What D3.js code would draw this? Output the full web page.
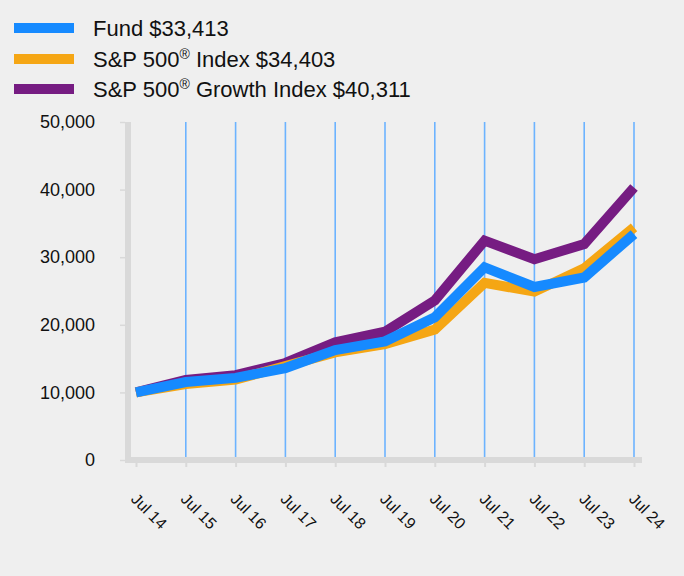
<!DOCTYPE html>
<html>
<head>
<meta charset="utf-8">
<script src="https://cdn.jsdelivr.net/npm/d3@7"></script>
<style>
  html, body { margin: 0; padding: 0; background: #efefef; }
  svg { display: block; font-family: Arial, "Liberation Sans", sans-serif; }
</style>
</head>
<body>
<svg id="chart" width="684" height="576"></svg>
<script>
const categories = ["Jul 14","Jul 15","Jul 16","Jul 17","Jul 18","Jul 19","Jul 20","Jul 21","Jul 22","Jul 23","Jul 24"];
const fundValues   = [10000, 11540, 12150, 13600, 16250, 17550, 21100, 28500, 25600, 27000, 33413];
const sp500Values  = [10000, 11240, 11900, 13900, 15930, 17160, 19300, 26200, 24900, 28350, 34403];
const growthValues = [10000, 11830, 12550, 14350, 17400, 18980, 23600, 32450, 29700, 31950, 40311];
const yTicks = [0, 10000, 20000, 30000, 40000, 50000];
const seriesNames = ["Fund", "S&P 500", "S&P 500"];
const seriesSuffix = [" $33,413", " Index $34,403", " Growth Index $40,311"];
const seriesColors = ["#168aff", "#f5a614", "#761c82"];

const svg = d3.select("#chart");
const x = d3.scalePoint().domain(categories).range([136, 634]);
const y = d3.scaleLinear().domain([0, 50000]).range([460, 122]);
const axisGray = "#d9d9d9";

// vertical grid lines (skip first)
svg.append("g").selectAll("line")
  .data(categories.slice(1))
  .join("line")
  .attr("x1", d => x(d)).attr("x2", d => x(d))
  .attr("y1", y(50000)).attr("y2", y(0) - 3)
  .attr("stroke", "#6cb3ff").attr("stroke-width", 1.6);

// y axis
const yAxis = d3.axisLeft(y).tickValues(yTicks).tickFormat(d3.format(",")).tickSize(5).tickPadding(25);
const gy = svg.append("g").attr("transform", "translate(125,0)").call(yAxis);
gy.select(".domain").remove();
gy.selectAll(".tick line").attr("stroke", axisGray).attr("stroke-width", 1.5);
gy.selectAll(".tick text").attr("fill", "#111").style("font-size", "18px")
  .style("font-family", "Arial, 'Liberation Sans', sans-serif");
svg.append("line").attr("x1", 128).attr("x2", 128).attr("y1", y(50000)).attr("y2", y(0) + 3)
  .attr("stroke", axisGray).attr("stroke-width", 6);

// x axis
const xAxis = d3.axisBottom(x).tickSize(5).tickFormat("");
const gx = svg.append("g").attr("transform", "translate(0,462)").call(xAxis);
gx.select(".domain").remove();
gx.selectAll(".tick line").attr("stroke", axisGray).attr("stroke-width", 2);
svg.append("line").attr("x1", 125).attr("x2", 642).attr("y1", y(0)).attr("y2", y(0))
  .attr("stroke", axisGray).attr("stroke-width", 6);

svg.append("g").selectAll("text")
  .data(categories)
  .join("text")
  .attr("transform", d => `translate(${x(d) - 6},500) rotate(45)`)
  .attr("text-anchor", "start")
  .attr("fill", "#111")
  .style("font-size", "16px")
  .text(d => d);

// lines
const line = d3.line().x((d, i) => x(categories[i])).y(d => y(d));
const drawOrder = [[growthValues, seriesColors[2]], [sp500Values, seriesColors[1]], [fundValues, seriesColors[0]]];
svg.append("g").selectAll("path")
  .data(drawOrder)
  .join("path")
  .attr("d", d => line(d[0]))
  .attr("fill", "none")
  .attr("stroke", d => d[1])
  .attr("stroke-width", 10)
  .attr("stroke-linejoin", "miter");

// legend
const legendY = [28, 59, 89];
const lg = svg.append("g");
seriesNames.forEach((name, i) => {
  lg.append("line").attr("x1", 14).attr("x2", 74).attr("y1", legendY[i]).attr("y2", legendY[i])
    .attr("stroke", seriesColors[i]).attr("stroke-width", 10);
  const t = lg.append("text").attr("x", 93).attr("y", legendY[i] + 8)
    .attr("fill", "#111").style("font-size", "22px");
  t.append("tspan").text(name);
  if (i > 0) {
    t.append("tspan").attr("dy", -8).style("font-size", "14px").text("®");
    t.append("tspan").attr("dy", 8).text(seriesSuffix[i]);
  } else {
    t.append("tspan").text(seriesSuffix[i]);
  }
});
</script>
</body>
</html>
